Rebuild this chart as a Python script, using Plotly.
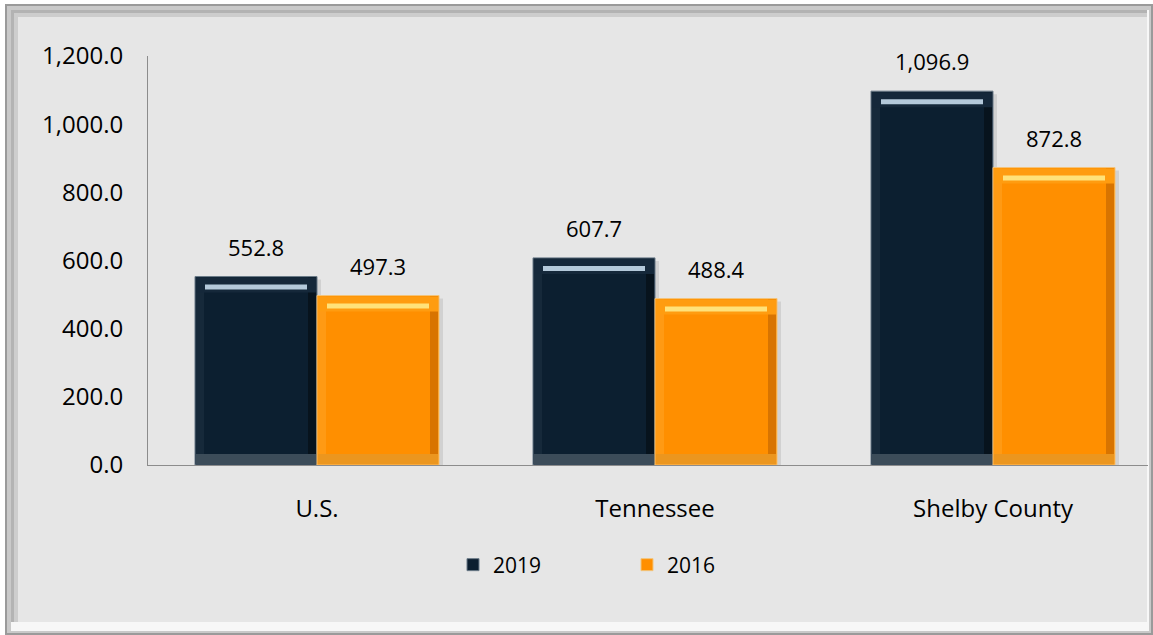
import plotly.graph_objects as go

categories = ["U.S.", "Tennessee", "Shelby County"]
series_names = ["2019", "2016"]
values_2019 = [552.8, 607.7, 1096.9]
values_2016 = [497.3, 488.4, 872.8]
y_ticks = [0, 200, 400, 600, 800, 1000, 1200]

W, H = 1153, 635
L, R, T, B = 148, 5, 56, 170
PW, PH = W - L - R, H - T - B
YMAX = 1200
XR = [-0.5, -0.5 + PW / 338.0]
UX = (XR[1] - XR[0]) / PW     # category units per px
UY = YMAX / PH                # data units per px

BW = 122 * UX                 # bar width in category units

styles = {
    "2019": dict(main="#0c1f30", line="#6b7b88", top="#15283a", hi="#b4c9da",
                 bottom="#3c4c59", right="#07131d", left="#16293a", off=-BW),
    "2016": dict(main="#ff8f00", line="#f3c47a", top="#ff9c10", hi="#ffe27a",
                 bottom="#eb961f", right="#d87400", left="#ff9a14", off=0.0),
}

fig = go.Figure()


def deco(vals, off, inset_l, inset_r, base_fn, height_fn, color, name):
    fig.add_trace(go.Bar(
        x=categories, y=[height_fn(v) for v in vals], base=[base_fn(v) for v in vals],
        offset=off + inset_l * UX, width=BW - (inset_l + inset_r) * UX,
        marker=dict(color=color, line=dict(width=0)),
        showlegend=False, hoverinfo="skip", name=name,
    ))


for name, vals in (("2019", values_2019), ("2016", values_2016)):
    s = styles[name]
    # shadow
    fig.add_trace(go.Bar(
        x=categories, y=[v - 3 * UY for v in vals], base=[0] * 3,
        offset=s["off"] + 4 * UX, width=BW,
        marker=dict(color="rgba(0,0,0,0.09)", line=dict(width=0)),
        showlegend=False, hoverinfo="skip",
    ))
    # main
    fig.add_trace(go.Bar(
        x=categories, y=vals, name=name, offset=s["off"], width=BW,
        marker=dict(color=s["main"], line=dict(color=s["line"], width=1)),
    ))
    # side shading
    deco(vals, s["off"], BW / UX - 9, 1, lambda v: 1 * UY, lambda v: v - 2 * UY, s["right"], name)
    deco(vals, s["off"], 1, BW / UX - 9, lambda v: 1 * UY, lambda v: v - 2 * UY, s["left"], name)
    # top bevel band
    deco(vals, s["off"], 1, 1, lambda v: v - 16 * UY, lambda v: 15 * UY, s["top"], name)
    # highlight line
    deco(vals, s["off"], 10, 10, lambda v: v - 13 * UY, lambda v: 5 * UY, s["hi"], name)
    # bottom bevel band
    deco(vals, s["off"], 1, 1, lambda v: 1 * UY, lambda v: 10 * UY, s["bottom"], name)

# data labels
annotations = []
for name, vals in (("2019", values_2019), ("2016", values_2016)):
    s = styles[name]
    for c, v in zip(categories, vals):
        annotations.append(dict(
            x=c, y=v, xref="x", yref="y", text=f"{v:,.1f}", showarrow=False,
            xshift=(s["off"] + BW / 2) / UX, yshift=30, yanchor="middle",
            font=dict(family="Open Sans", size=22, color="#000000"),
        ))


def px(xp, yp):
    return (xp - L) / PW, (H - B - yp) / PH


def rect(x0, y0, x1, y1, color):
    a0, b0 = px(x0, y0)
    a1, b1 = px(x1, y1)
    return dict(type="rect", xref="paper", yref="paper", x0=a0, y0=b1, x1=a1, y1=b0,
                fillcolor=color, line=dict(width=0), layer="below")


shapes = [
    rect(5, 4, 1153, 635, "#9a9a9a"),
    rect(7, 6, 1151, 633, "#c9c9c9"),
    rect(11, 10, 1149, 631, "#f7f7f7"),
    rect(11, 10, 1147, 622, "#b3b3b3"),
    rect(14, 13, 1147, 622, "#cdcdcd"),
    rect(18, 17, 1147, 622, "#e6e6e6"),
]

fig.update_layout(
    width=W, height=H,
    margin=dict(l=L, r=R, t=T, b=B),
    barmode="overlay",
    paper_bgcolor="#ffffff",
    plot_bgcolor="rgba(0,0,0,0)",
    font=dict(family="Open Sans", size=21, color="#000000"),
    shapes=shapes,
    annotations=annotations,
    showlegend=True,
    legend=dict(orientation="h", x=(453 - L) / PW, xanchor="left",
                y=(H - B - 565) / PH, yanchor="middle",
                entrywidth=129, font=dict(size=21), bgcolor="rgba(0,0,0,0)",
                traceorder="normal"),
    xaxis=dict(range=XR, showgrid=False, showline=True, linecolor="#8c8c8c", linewidth=1,
               ticks="", ticklabelstandoff=22, tickfont=dict(size=24), zeroline=False),
    yaxis=dict(range=[0, YMAX], tickvals=y_ticks, tickformat=",.1f", showgrid=False,
               showline=True, linecolor="#8c8c8c", linewidth=1, ticks="",
               ticklabelstandoff=19, tickfont=dict(size=24), zeroline=False),
)

fig.write_html("out.html", config={"displayModeBar": False},
               post_script="document.body.style.margin='0';")
